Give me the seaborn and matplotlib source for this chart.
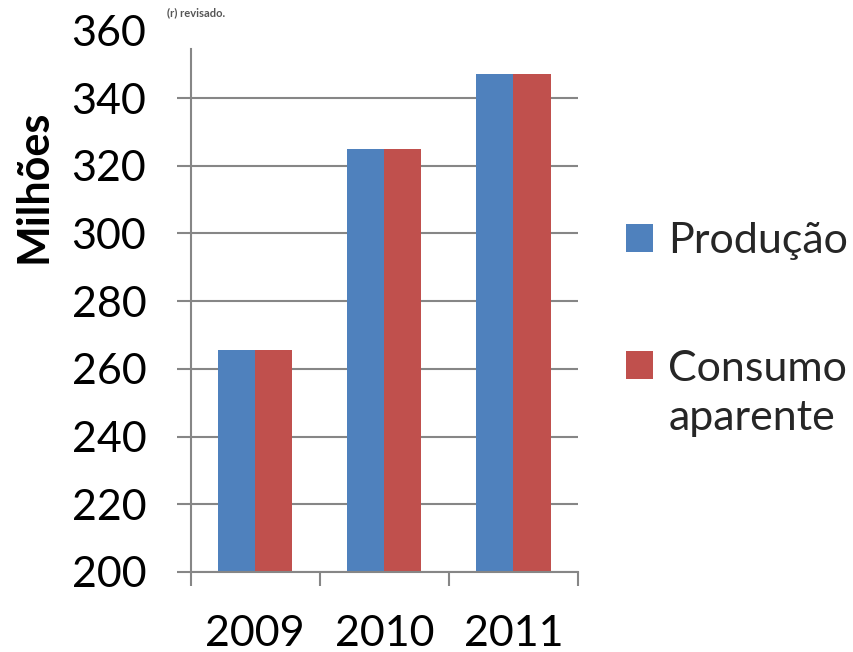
import matplotlib
matplotlib.use("Agg")
import matplotlib.pyplot as plt
import seaborn as sns
import pandas as pd

# Chart data (millions)
anos = ["2009", "2010", "2011"]
producao = [265.5, 325.0, 347.0]
consumo_aparente = [265.5, 325.0, 347.0]
series = ["Produção", "Consumo\naparente"]
yticks = [200, 220, 240, 260, 280, 300, 320, 340, 360]

df = pd.DataFrame({
    "ano": anos * 2,
    "valor": producao + consumo_aparente,
    "serie": [series[0]] * len(anos) + [series[1]] * len(anos),
})

sns.set_theme(style="white")
plt.rcParams["font.family"] = ["Lato", "DejaVu Sans"]

GRAY = "#868686"
W, H = 854, 652
fig = plt.figure(figsize=(W / 100, H / 100), dpi=100)
ax = fig.add_axes([190.7 / W, 1 - 572 / H, (578 - 190.7) / W, (572 - 30.3) / H])

sns.barplot(data=df, x="ano", y="valor", hue="serie", hue_order=series,
            palette=["#4F81BD", "#C0504D"], width=0.574, gap=0,
            saturation=1, linewidth=0, ax=ax, legend=True)

ax.set_xlim(-0.5, 2.5)
ax.set_ylim(200, 360)
ax.set_yticks(yticks)
ax.set_yticklabels([str(v) for v in yticks])
ax.set_xlabel("")
ax.set_ylabel("")

# horizontal gridlines, no line at the top value
ax.yaxis.grid(True, color=GRAY, linewidth=1.5)
ax.set_axisbelow(True)
ax.tick_params(axis="y", which="major", direction="out", length=10, width=1.5,
               color=GRAY, labelsize=31, pad=22, labelcolor="black", left=True)
top_tick = ax.yaxis.get_major_ticks()[-1]
top_tick.tick1line.set_visible(False)
top_tick.gridline.set_visible(False)

# category boundaries as x tick marks, labels centred on each year
ax.set_xticks([-0.5, 0.5, 1.5, 2.5], minor=True)
ax.tick_params(axis="x", which="minor", direction="out", length=10, width=1.5,
               color=GRAY, bottom=True)
ax.tick_params(axis="x", which="major", length=0, labelsize=31, pad=31,
               labelcolor="black")

for side in ("top", "right"):
    ax.spines[side].set_visible(False)
for side in ("left", "bottom"):
    ax.spines[side].set_color(GRAY)
    ax.spines[side].set_linewidth(1.5)
ax.spines["left"].set_bounds(200, 354.5)

handles, labels = ax.get_legend_handles_labels()
leg = ax.legend(handles, labels, loc="upper left",
                bbox_to_anchor=(626 / W, 1 - 222 / H),
                bbox_transform=fig.transFigure, frameon=False, fontsize=31,
                handlelength=0.63, handleheight=0.63, handletextpad=0.35,
                labelspacing=2.1, borderpad=0, borderaxespad=0)
for t in leg.get_texts():
    t.set_linespacing(1.35)
# keep the second swatch level with the first line of its label
swatch = leg.legend_handles[1]
swatch.set_y(swatch.get_y() + 21)

fig.text(33 / W, 1 - 186 / H, "Milhões", rotation=90, fontsize=31,
         fontweight="bold", ha="center", va="center", color="black")

fig.text(167 / W, 1 - 13 / H, "(r) revisado.", fontsize=8, fontweight="bold",
         color="#555555", ha="left", va="center")

fig.savefig("out.png", dpi=100, facecolor="white")
